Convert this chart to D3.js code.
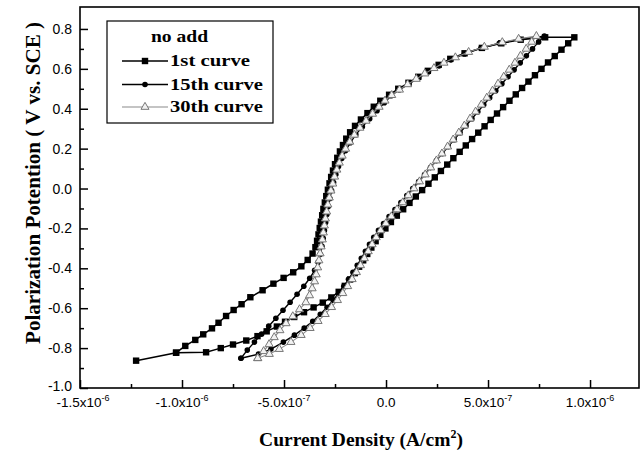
<!DOCTYPE html>
<html>
<head>
<meta charset="utf-8">
<script src="https://cdn.jsdelivr.net/npm/d3@7"></script>
<style>
  body { margin: 0; background: #fff; }
  svg { display: block; }
</style>
</head>
<body>
<svg id="chart" width="644" height="453"></svg>
<script>
// Cyclic polarization curves. Each point: [current density in 1e-7 A/cm², potential in V vs. SCE]
const curve1 = [
  [-12.25,-0.863],[-10.29,-0.823],[-9.84,-0.789],[-9.35,-0.759],[-8.96,-0.731],[-8.53,-0.701],
  [-8.21,-0.673],[-7.84,-0.639],[-7.47,-0.609],[-7.08,-0.580],[-6.65,-0.545],[-6.05,-0.510],
  [-5.52,-0.477],[-5.02,-0.448],[-4.55,-0.420],[-4.15,-0.390],[-3.84,-0.358],[-3.60,-0.326],
  [-3.46,-0.294],[-3.38,-0.262],[-3.31,-0.230],[-3.25,-0.198],[-3.19,-0.166],[-3.13,-0.134],
  [-3.07,-0.102],[-3.00,-0.070],[-2.93,-0.038],[-2.85,-0.006],[-2.77,0.026],[-2.69,0.058],
  [-2.60,0.090],[-2.50,0.122],[-2.39,0.154],[-2.26,0.186],[-2.11,0.218],[-1.95,0.250],
  [-1.76,0.282],[-1.52,0.314],[-1.23,0.346],[-0.91,0.378],[-0.60,0.410],[-0.28,0.440],
  [0.15,0.470],[0.60,0.500],[1.10,0.530],[1.58,0.560],[2.05,0.590],[2.58,0.620],
  [3.15,0.650],[3.85,0.678],[4.70,0.705],[5.65,0.728],[6.60,0.746],[7.80,0.758],
  [9.23,0.758],
  [8.93,0.728],[8.60,0.696],[8.27,0.664],[7.94,0.632],[7.62,0.600],[7.30,0.568],
  [6.98,0.536],[6.67,0.504],[6.36,0.472],[6.05,0.440],[5.74,0.408],[5.44,0.376],
  [5.13,0.344],[4.83,0.312],[4.52,0.280],[4.22,0.248],[3.91,0.216],[3.61,0.184],
  [3.30,0.152],[3.00,0.120],[2.69,0.088],[2.39,0.056],[2.08,0.024],[1.77,-0.008],
  [1.46,-0.040],[1.15,-0.072],[0.84,-0.104],[0.53,-0.136],[0.24,-0.168],[-0.03,-0.200],
  [-0.28,-0.232],[-0.51,-0.264],[-0.72,-0.296],[-0.92,-0.328],[-1.12,-0.360],[-1.32,-0.392],
  [-1.53,-0.424],[-1.76,-0.456],[-2.02,-0.488],[-2.32,-0.518],[-2.68,-0.546],[-3.10,-0.572],
  [-3.55,-0.596],[-4.02,-0.620],[-4.50,-0.644],[-4.95,-0.668],[-5.35,-0.692],[-5.85,-0.716],
  [-6.30,-0.740],[-6.85,-0.762],[-7.50,-0.782],[-8.10,-0.800],[-8.82,-0.821],[-10.29,-0.823]
];

const curve15 = [
  [-7.11,-0.851],[-6.80,-0.810],[-6.45,-0.770],[-6.10,-0.730],[-5.75,-0.690],[-5.40,-0.650],
  [-5.05,-0.610],[-4.70,-0.570],[-4.36,-0.530],[-4.03,-0.490],[-3.74,-0.450],[-3.50,-0.410],
  [-3.33,-0.370],[-3.22,-0.330],[-3.14,-0.290],[-3.08,-0.250],[-3.02,-0.210],[-2.96,-0.170],
  [-2.90,-0.130],[-2.83,-0.090],[-2.75,-0.050],[-2.67,-0.010],[-2.57,0.030],[-2.46,0.070],
  [-2.33,0.110],[-2.17,0.150],[-1.98,0.190],[-1.75,0.230],[-1.48,0.270],[-1.16,0.310],
  [-0.80,0.350],[-0.44,0.390],[-0.08,0.430],[0.25,0.465],[0.65,0.495],[1.12,0.525],
  [1.60,0.555],[2.08,0.585],[2.60,0.615],[3.18,0.645],[3.85,0.675],[4.65,0.703],
  [5.55,0.728],[6.55,0.748],[7.76,0.764],
  [7.48,0.735],[7.18,0.700],[6.88,0.665],[6.58,0.630],[6.28,0.595],[5.98,0.560],
  [5.68,0.525],[5.38,0.490],[5.08,0.455],[4.79,0.420],[4.50,0.385],[4.21,0.350],
  [3.92,0.315],[3.63,0.280],[3.34,0.245],[3.05,0.210],[2.76,0.175],[2.47,0.140],
  [2.18,0.105],[1.89,0.070],[1.60,0.035],[1.31,0.000],[1.02,-0.035],[0.73,-0.070],
  [0.44,-0.105],[0.15,-0.140],[-0.12,-0.175],[-0.37,-0.210],[-0.60,-0.245],[-0.81,-0.280],
  [-1.01,-0.315],[-1.21,-0.350],[-1.41,-0.385],[-1.62,-0.420],[-1.84,-0.455],[-2.07,-0.490],
  [-2.32,-0.525],[-2.59,-0.560],[-2.89,-0.595],[-3.22,-0.630],[-3.59,-0.665],[-4.01,-0.700],
  [-4.49,-0.735],[-5.03,-0.770],[-5.64,-0.805],[-6.25,-0.830],[-7.11,-0.851]
];

const curve30 = [
  [-6.29,-0.851],[-6.00,-0.816],[-5.73,-0.781],[-5.48,-0.746],[-5.20,-0.711],[-4.90,-0.676],
  [-4.57,-0.641],[-4.24,-0.606],[-3.93,-0.571],[-3.75,-0.536],[-3.62,-0.501],[-3.50,-0.466],
  [-3.42,-0.431],[-3.35,-0.396],[-3.29,-0.361],[-3.23,-0.326],[-3.18,-0.291],[-3.12,-0.256],
  [-3.07,-0.221],[-3.02,-0.186],[-2.97,-0.151],[-2.91,-0.116],[-2.85,-0.081],[-2.78,-0.046],
  [-2.70,-0.011],[-2.61,0.024],[-2.52,0.059],[-2.41,0.094],[-2.29,0.129],[-2.15,0.164],
  [-1.98,0.199],[-1.78,0.234],[-1.55,0.269],[-1.28,0.304],[-0.98,0.339],[-0.66,0.374],
  [-0.34,0.409],[-0.05,0.440],[0.28,0.468],[0.66,0.495],[1.06,0.522],[1.48,0.549],
  [1.90,0.576],[2.35,0.603],[2.84,0.630],[3.40,0.657],[4.05,0.684],[4.82,0.710],
  [5.70,0.733],[6.50,0.750],[7.37,0.764],
  [7.14,0.735],[6.87,0.700],[6.59,0.665],[6.32,0.630],[6.04,0.595],[5.77,0.560],
  [5.49,0.525],[5.22,0.490],[4.94,0.455],[4.67,0.420],[4.39,0.385],[4.12,0.350],
  [3.84,0.315],[3.57,0.280],[3.29,0.245],[3.02,0.210],[2.74,0.175],[2.47,0.140],
  [2.19,0.105],[1.92,0.070],[1.64,0.035],[1.37,0.000],[1.09,-0.035],[0.82,-0.070],
  [0.54,-0.105],[0.26,-0.140],[-0.01,-0.175],[-0.26,-0.210],[-0.48,-0.245],[-0.68,-0.280],
  [-0.87,-0.315],[-1.06,-0.350],[-1.25,-0.385],[-1.45,-0.420],[-1.66,-0.455],[-1.88,-0.490],
  [-2.12,-0.525],[-2.38,-0.560],[-2.67,-0.595],[-2.98,-0.630],[-3.33,-0.665],[-3.72,-0.700],
  [-4.16,-0.735],[-4.66,-0.770],[-5.23,-0.805],[-5.72,-0.830],[-6.29,-0.851]
];

const seriesNames = ["1st curve", "15th curve", "30th curve"];
const legendTitle = "no add";

// Axis ticks (current in 1e-7 A/cm²)
const yMajorTicks = [-1.0, -0.8, -0.6, -0.4, -0.2, 0.0, 0.2, 0.4, 0.6, 0.8];
const yMinorTicks = [-0.9, -0.7, -0.5, -0.3, -0.1, 0.1, 0.3, 0.5, 0.7];
const xMajorTicks = [-15, -10, -5, 0, 5, 10];
const xMinorTicks = [-12.5, -7.5, -2.5, 2.5, 7.5];
const xTickMantissa = ["-1.5x10", "-1.0x10", "-5.0x10", "0.0", "5.0x10", "1.0x10"];
const xTickExponent = ["-6", "-6", "-7", "", "-7", "-6"];

const svg = d3.select("#chart");
const plotLeft = 80, plotRight = 639, plotTop = 7, plotBottom = 388;

const x = d3.scaleLinear().domain([-15, 12.4]).range([plotLeft, plotRight]);
const y = d3.scaleLinear().domain([-1.0, 0.91]).range([plotBottom, plotTop]);

const sans = "'Liberation Sans', Arial, sans-serif";
const serif = "'Liberation Serif', 'Times New Roman', serif";

// Inward-pointing ticks
const yAxisMajor = svg.append("g").attr("transform", `translate(${plotLeft},0)`)
  .call(d3.axisLeft(y).tickValues(yMajorTicks).tickSize(-8).tickPadding(8));
yAxisMajor.select(".domain").remove();
yAxisMajor.selectAll("line").attr("stroke", "#000").attr("stroke-width", 1.5);
yAxisMajor.selectAll("text").attr("font-family", sans).attr("font-size", 14).attr("fill", "#000")
  .attr("dy", d => d === -1.0 ? "0.2em" : "0.32em")
  .text(d => d.toFixed(1));

const yAxisMinor = svg.append("g").attr("transform", `translate(${plotLeft},0)`)
  .call(d3.axisLeft(y).tickValues(yMinorTicks).tickSize(-4).tickFormat(""));
yAxisMinor.select(".domain").remove();
yAxisMinor.selectAll("line").attr("stroke", "#000").attr("stroke-width", 1.5);

const xAxisMajor = svg.append("g").attr("transform", `translate(0,${plotBottom})`)
  .call(d3.axisBottom(x).tickValues(xMajorTicks).tickSize(-8).tickFormat(""));
xAxisMajor.select(".domain").remove();
xAxisMajor.selectAll("line").attr("stroke", "#000").attr("stroke-width", 1.5);

const xAxisMinor = svg.append("g").attr("transform", `translate(0,${plotBottom})`)
  .call(d3.axisBottom(x).tickValues(xMinorTicks).tickSize(-4).tickFormat(""));
xAxisMinor.select(".domain").remove();
xAxisMinor.selectAll("line").attr("stroke", "#000").attr("stroke-width", 1.5);

// x tick labels with superscript exponents
xMajorTicks.forEach((t, i) => {
  const label = svg.append("text")
    .attr("x", x(t) + (i === 0 ? 3 : 0)).attr("y", 407)
    .attr("text-anchor", "middle")
    .attr("font-family", sans).attr("font-size", 13.5).attr("fill", "#000");
  label.append("tspan").text(xTickMantissa[i]);
  if (xTickExponent[i]) {
    label.append("tspan").attr("dy", -6).attr("font-size", 9).text(xTickExponent[i]);
  }
});

// Plot frame
svg.append("rect")
  .attr("x", plotLeft).attr("y", plotTop)
  .attr("width", plotRight - plotLeft).attr("height", plotBottom - plotTop)
  .attr("fill", "none").attr("stroke", "#000").attr("stroke-width", 1.6);

// Series
const line = d3.line().x(d => x(d[0])).y(d => y(d[1]));
const series = [
  { name: seriesNames[0], data: curve1, stroke: "#000", width: 1.5, marker: "square" },
  { name: seriesNames[1], data: curve15, stroke: "#000", width: 1.4, marker: "circle" },
  { name: seriesNames[2], data: curve30, stroke: "#8a8a8a", width: 1.1, marker: "triangle" }
];

function drawMarker(g, type, cx, cy) {
  if (type === "square") {
    g.append("rect").attr("x", cx - 3.2).attr("y", cy - 3.2)
      .attr("width", 6.4).attr("height", 6.4).attr("fill", "#000");
  } else if (type === "circle") {
    g.append("circle").attr("cx", cx).attr("cy", cy).attr("r", 2.8).attr("fill", "#000");
  } else {
    g.append("path")
      .attr("d", d3.symbol().type(d3.symbolTriangle).size(28)())
      .attr("transform", `translate(${cx},${cy})`)
      .attr("fill", "#f2f2f2").attr("stroke", "#777").attr("stroke-width", 1);
  }
}

series.forEach(s => {
  const g = svg.append("g");
  g.append("path").datum(s.data).attr("d", line)
    .attr("fill", "none").attr("stroke", s.stroke).attr("stroke-width", s.width);
  s.data.forEach(d => drawMarker(g, s.marker, x(d[0]), y(d[1])));
});

// Legend
const legend = svg.append("g");
legend.append("rect").attr("x", 107).attr("y", 21).attr("width", 166).attr("height", 102)
  .attr("fill", "#fff").attr("stroke", "#000").attr("stroke-width", 1.2);
legend.append("text").attr("x", 151).attr("y", 42)
  .attr("font-family", serif).attr("font-weight", "bold").attr("font-size", 16)
  .attr("textLength", 57).attr("lengthAdjust", "spacingAndGlyphs")
  .text(legendTitle);
const rowY = [66, 89.5, 112];
const rowLen = [80, 93, 93];
series.forEach((s, i) => {
  const g = legend.append("g");
  g.append("line").attr("x1", 122).attr("x2", 168)
    .attr("y1", rowY[i] - 5).attr("y2", rowY[i] - 5)
    .attr("stroke", s.stroke).attr("stroke-width", s.width);
  drawMarker(g, s.marker, 145, rowY[i] - 5);
  g.append("text").attr("x", 170).attr("y", rowY[i])
    .attr("font-family", serif).attr("font-weight", "bold").attr("font-size", 16)
    .attr("textLength", rowLen[i]).attr("lengthAdjust", "spacingAndGlyphs")
    .text(s.name);
});

// Axis titles
svg.append("text")
  .attr("transform", "translate(40,183) rotate(-90)")
  .attr("text-anchor", "middle")
  .attr("font-family", serif).attr("font-weight", "bold").attr("font-size", 20)
  .attr("textLength", 322).attr("lengthAdjust", "spacingAndGlyphs")
  .text("Polarization Potention ( V vs. SCE )");

const xTitle = svg.append("text")
  .attr("x", 361).attr("y", 446)
  .attr("text-anchor", "middle")
  .attr("font-family", serif).attr("font-weight", "bold").attr("font-size", 19.5);
xTitle.append("tspan").text("Current Density (A/cm");
xTitle.append("tspan").attr("dy", -8).attr("font-size", 12).text("2");
xTitle.append("tspan").attr("dy", 8).text(")");
</script>
</body>
</html>
